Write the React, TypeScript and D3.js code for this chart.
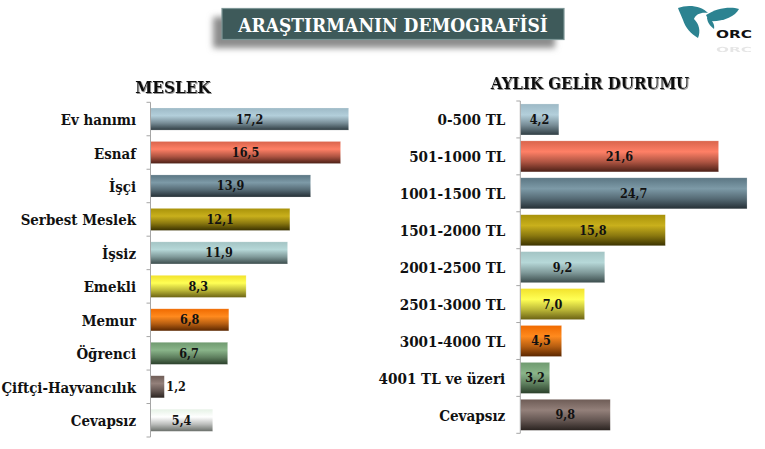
import React from 'react';
import * as d3 from 'd3';

const meslekLabels = ['Ev hanımı', 'Esnaf', 'İşçi', 'Serbest Meslek', 'İşsiz', 'Emekli', 'Memur', 'Öğrenci', 'Çiftçi-Hayvancılık', 'Cevapsız'];
const meslekValues = [17.2, 16.5, 13.9, 12.1, 11.9, 8.3, 6.8, 6.7, 1.2, 5.4];
const meslekColors = ['blue', 'red', 'slate', 'olive', 'teal', 'yellow', 'orange', 'green', 'brown', 'white'];

const gelirLabels = ['0-500 TL', '501-1000 TL', '1001-1500 TL', '1501-2000 TL', '2001-2500 TL', '2501-3000 TL', '3001-4000 TL', '4001 TL ve üzeri', 'Cevapsız'];
const gelirValues = [4.2, 21.6, 24.7, 15.8, 9.2, 7.0, 4.5, 3.2, 9.8];
const gelirColors = ['blue', 'red', 'slate', 'olive', 'teal', 'yellow', 'orange', 'green', 'brown'];

// top, light band, bottom
const ramps: Record<string, string[]> = {
  blue: ['#9db9c6', '#b3cfdb', '#2f3d43'],
  red: ['#d9644c', '#ff8066', '#4a1f16'],
  slate: ['#5b7683', '#7d9aa7', '#252f35'],
  olive: ['#a8920a', '#c9b01c', '#3a3200'],
  teal: ['#a3c4c4', '#b6d8d8', '#3b4c4c'],
  yellow: ['#f2e22c', '#ffff55', '#6b6214'],
  orange: ['#f06a00', '#ff8a1e', '#5a2600'],
  green: ['#6f9a6f', '#8ab58a', '#2a3f2a'],
  brown: ['#6e5c56', '#93807a', '#2a2320'],
  white: ['#e6f2e6', '#ffffff', '#6a6f6a'],
};

const serif = '"DejaVu Serif Condensed", "DejaVu Serif", serif';

interface PanelProps {
  labels: string[];
  values: number[];
  colors: string[];
  title: string;
  titleX: number;
  titleY: number;
  titleSize: number;
  axisX: number;
  top: number;
  bottom: number;
  pxPerUnit: number;
  padding: number;
  labelGap: number;
  fontSize: number;
}

const Panel: React.FC<PanelProps> = ({ labels, values, colors, title, titleX, titleY, titleSize, axisX, top, bottom, pxPerUnit, padding, labelGap, fontSize }) => {
  const y = d3.scaleBand<string>().domain(labels).range([top, bottom]).paddingInner(padding).paddingOuter(padding / 2);
  const x = d3.scaleLinear().domain([0, 1]).range([axisX, axisX + pxPerUnit]);
  const edges = d3.range(labels.length + 1).map(i => top + (i * (bottom - top)) / labels.length);
  const fmt = (v: number) => v.toFixed(1).replace('.', ',');

  return (
    <g fontFamily={serif} fontWeight="bold" fill="#111">
      <text x={titleX} y={titleY} textAnchor="middle" fontSize={titleSize} filter="url(#textShadow)">{title}</text>
      {labels.map((label, i) => {
        const by = y(label)!;
        const bw = x(values[i]) - axisX;
        const small = bw < 20;
        return (
          <g key={label}>
            <rect x={axisX} y={by} width={bw} height={y.bandwidth()} fill={`url(#bar-${colors[i]})`} stroke="#fff" strokeOpacity={0.35} strokeWidth={0.6} />
            <text x={axisX - labelGap} y={by + y.bandwidth() / 2 + 6} textAnchor="end" fontSize={fontSize}>{label}</text>
            <text
              x={small ? x(values[i]) + 2 : axisX + bw / 2}
              y={by + y.bandwidth() / 2 + 4.5}
              textAnchor={small ? 'start' : 'middle'}
              fontSize={12.5}
            >{fmt(values[i])}</text>
          </g>
        );
      })}
      <line x1={axisX} x2={axisX} y1={top} y2={bottom} stroke="#a6a6a6" strokeWidth={1} />
      {edges.map(e => <line key={e} x1={axisX - 4} x2={axisX} y1={e} y2={e} stroke="#a6a6a6" strokeWidth={1} />)}
    </g>
  );
};

export default function App() {
  return (
    <svg width={765} height={449} viewBox="0 0 765 449" style={{ position: 'absolute', left: 0, top: 0, background: '#fff' }}>
      <defs>
        {Object.entries(ramps).map(([name, [a, b, c]]) => (
          <linearGradient key={name} id={`bar-${name}`} x1="0" x2="0" y1="0" y2="1">
            <stop offset="0" stopColor={a} />
            <stop offset="0.35" stopColor={b} />
            <stop offset="0.68" stopColor={d3.interpolateRgb(b, c)(0.45)} />
            <stop offset="1" stopColor={c} />
          </linearGradient>
        ))}
        <filter id="boxShadow" x="-10%" y="-50%" width="120%" height="200%">
          <feGaussianBlur stdDeviation="3" />
        </filter>
        <filter id="textShadow" x="-10%" y="-30%" width="120%" height="160%">
          <feDropShadow dx="0.8" dy="0.8" stdDeviation="0.7" floodColor="#777" />
        </filter>
      </defs>

      <rect x={213} y={17} width={342} height={31} fill="#8c8c8c" filter="url(#boxShadow)" />
      <rect x={222} y={8.5} width={342} height={31} fill="#3e5a5a" stroke="#7d9696" strokeWidth={1.2} />
      <text x={393} y={31.5} textAnchor="middle" fontFamily={serif} fontWeight="bold" fontSize={19} fill="#fff">ARAŞTIRMANIN DEMOGRAFİSİ</text>

      <g fill="#2c8391">
        <path d="M678 8 C688 4 702 6 708 13 C701 12 696 14 694 19 C699 24 701 31 698 38 C691 34 685 27 683 20 C681 15 679 11 678 8 Z" />
        <path d="M706 15 C716 8 731 6 739 9 C735 17 722 22 709 21 Z" />
        <path d="M707 17 C712 20 715 24 714 29 C710 26 707 22 707 17 Z" />
      </g>
      <text x={716} y={38} fontFamily="DejaVu Sans" fontWeight="bold" fontSize={11} fill="#111" textLength={36} lengthAdjust="spacingAndGlyphs">ORC</text>
      <text x={716} y={52} fontFamily="DejaVu Sans" fontWeight="bold" fontSize={7} fill="#111" opacity={0.1} textLength={36} lengthAdjust="spacingAndGlyphs">ORC</text>

      <Panel labels={meslekLabels} values={meslekValues} colors={meslekColors} title="MESLEK" titleX={173} titleY={93} titleSize={17} axisX={150.5} top={102.3} bottom={437} pxPerUnit={11.52} padding={0.34} labelGap={14.5} fontSize={14.9} />
      <Panel labels={gelirLabels} values={gelirValues} colors={gelirColors} title="AYLIK GELİR DURUMU" titleX={590} titleY={89} titleSize={16.7} axisX={520.3} top={101} bottom={433.3} pxPerUnit={9.18} padding={0.16} labelGap={15} fontSize={15.1} />
    </svg>
  );
}
